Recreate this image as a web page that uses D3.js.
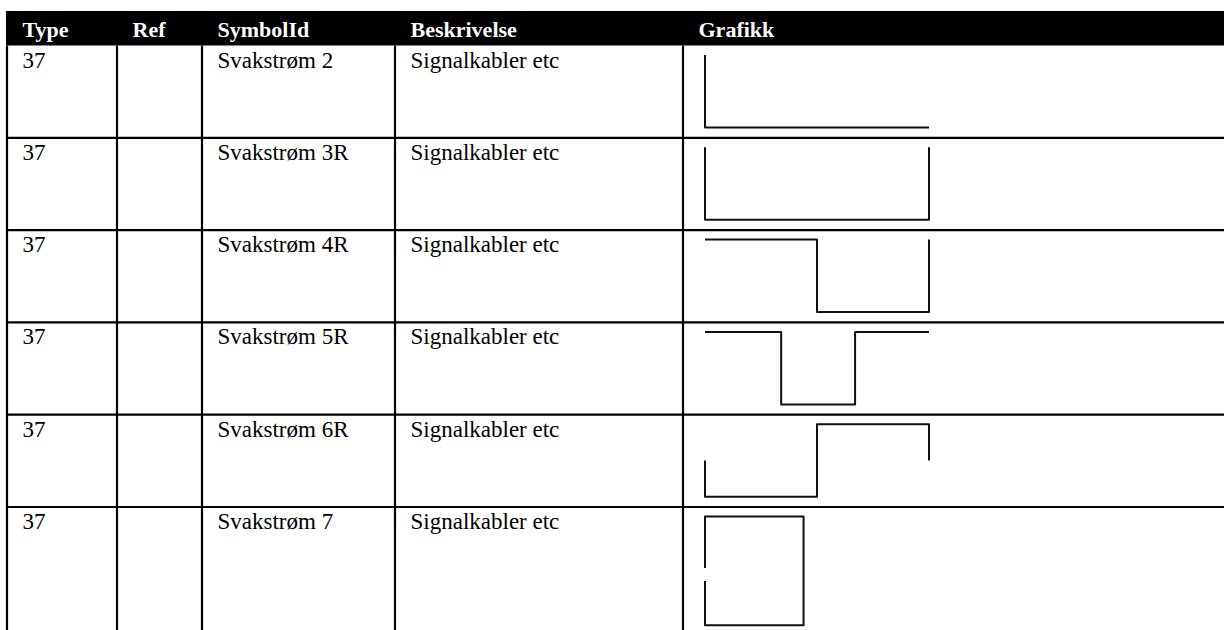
<!DOCTYPE html>
<html>
<head>
<meta charset="utf-8">
<script src="https://cdn.jsdelivr.net/npm/d3@7"></script>
<style>
  html, body { margin: 0; padding: 0; background: #fff; }
  svg { display: block; }
</style>
</head>
<body>
<svg id="chart" width="1224" height="630"></svg>
<script>
// ---- data ----
const columns = ["Type", "Ref", "SymbolId", "Beskrivelse", "Grafikk"];
const types = ["37", "37", "37", "37", "37", "37"];
const refs = ["", "", "", "", "", ""];
const symbolIds = ["Svakstrøm 2", "Svakstrøm 3R", "Svakstrøm 4R", "Svakstrøm 5R", "Svakstrøm 6R", "Svakstrøm 7"];
const descriptions = ["Signalkabler etc", "Signalkabler etc", "Signalkabler etc", "Signalkabler etc", "Signalkabler etc", "Signalkabler etc"];
// symbol outlines, in symbol units (x: 0..1 across, y: 0 top .. 1 bottom)
const symbol2  = [[0, 0], [0, 1], [1, 1]];
const symbol3R = [[0, 0], [0, 1], [1, 1], [1, 0]];
const symbol4R = [[0, 0], [0.5, 0], [0.5, 1], [1, 1], [1, 0]];
const symbol5R = [[0, 0], [0.34, 0], [0.34, 1], [0.67, 1], [0.67, 0], [1, 0]];
const symbol6R = [[0, 0.5], [0, 1], [0.5, 1], [0.5, 0], [1, 0], [1, 0.5]];
const symbol7  = [[0, 0.71], [0, 0], [0.44, 0], [0.44, 1.5], [0, 1.5], [0, 0.89]];
const symbols = [symbol2, symbol3R, symbol4R, symbol5R, symbol6R, symbol7];

// ---- layout ----
const W = 1224, H = 630;
const svg = d3.select("#chart");
const colEdges = [7, 117, 202, 395, 683];
const headerTop = 11, headerBottom = 45.5;
const rowTop = d3.scaleLinear().domain([0, 1]).range([45.5, 137.8]);
const xSym = d3.scaleLinear().domain([0, 1]).range([705, 929]);
const serif = "'Liberation Serif', 'Times New Roman', serif";

// header band
svg.append("rect")
  .attr("x", 6).attr("y", headerTop)
  .attr("width", W - 6).attr("height", headerBottom - headerTop)
  .attr("fill", "#000");

svg.selectAll("text.head").data(columns).join("text")
  .attr("class", "head")
  .attr("x", (d, i) => colEdges[i] + 15.5)
  .attr("y", 37)
  .attr("fill", "#fff")
  .attr("font-family", serif)
  .attr("font-weight", "bold")
  .attr("font-size", 22)
  .text(d => d);

// grid lines
const rowIdx = d3.range(types.length);
svg.selectAll("line.hrule").data(rowIdx.slice(1)).join("line")
  .attr("class", "hrule")
  .attr("x1", 6).attr("x2", W)
  .attr("y1", d => rowTop(d)).attr("y2", d => rowTop(d))
  .attr("stroke", "#000").attr("stroke-width", 2.2);

svg.selectAll("line.vrule").data(colEdges).join("line")
  .attr("class", "vrule")
  .attr("x1", d => d).attr("x2", d => d)
  .attr("y1", headerBottom).attr("y2", H)
  .attr("stroke", "#000").attr("stroke-width", 2.2);

// cell texts
const cellCols = [types, refs, symbolIds, descriptions];
cellCols.forEach((arr, c) => {
  svg.selectAll("text.c" + c).data(arr).join("text")
    .attr("class", "c" + c)
    .attr("x", colEdges[c] + 15.5)
    .attr("y", (d, i) => rowTop(i) + 22)
    .attr("fill", "#000")
    .attr("font-family", serif)
    .attr("font-size", 23)
    .text(d => d);
});

// symbol graphics
const line = d3.line();
svg.selectAll("path.sym").data(symbols).join("path")
  .attr("class", "sym")
  .attr("d", (pts, i) => {
    const y = d3.scaleLinear().domain([0, 1]).range([rowTop(i) + 9.5, rowTop(i) + 82]);
    return line(pts.map(p => [xSym(p[0]), y(p[1])]));
  })
  .attr("fill", "none")
  .attr("stroke", "#111")
  .attr("stroke-width", 2)
  .attr("stroke-linejoin", "round")
  .attr("stroke-linecap", "butt");
</script>
</body>
</html>
